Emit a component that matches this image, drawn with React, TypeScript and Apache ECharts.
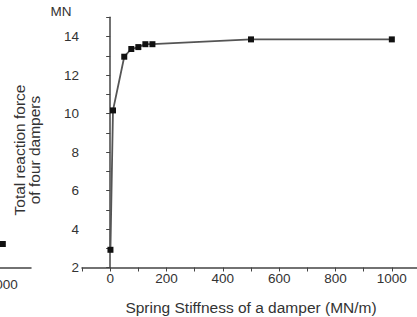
import React, { useEffect, useRef } from "react";
import * as echarts from "echarts";

const stiffness = [1, 10, 50, 75, 100, 125, 150, 500, 1000];
const reactionForce = [2.92, 10.16, 12.95, 13.35, 13.45, 13.6, 13.6, 13.85, 13.85];
const xTickLabels = [0, 200, 400, 600, 800, 1000];
const yTickLabels = [2, 4, 6, 8, 10, 12, 14];
// fragment of the neighbouring chart on the left edge
const neighbourX = [1000];
const neighbourY = [3.22];

const FONT = "Liberation Sans, Arial, sans-serif";
const TXT = "#333";
const AXIS = "#444";

export default function App() {
  const ref = useRef<HTMLDivElement>(null);
  useEffect(() => {
    if (!ref.current) return;
    const chart = echarts.init(ref.current, undefined, { renderer: "svg" });
    const common = {
      fontFamily: FONT,
      color: TXT,
      fontSize: 13.5,
    };
    chart.setOption({
      animation: false,
      backgroundColor: "#fff",
      grid: [
        { left: 82, width: 338, top: 17.25, height: 250.25, outerBoundsMode: "none", containLabel: false },
        { left: 0, width: 31, top: 17.25, height: 250.25, outerBoundsMode: "none", containLabel: false },
      ],
      xAxis: [
        {
          type: "value",
          gridIndex: 0,
          min: -100,
          max: 1100,
          interval: 100,
          splitLine: { show: false },
          axisLine: { show: true, lineStyle: { color: AXIS, width: 1.5 } },
          axisTick: { show: true, length: 4, lineStyle: { color: AXIS } },
          axisLabel: {
            ...common,
            margin: 4,
            formatter: (v: number) => (xTickLabels.includes(v) ? String(v) : ""),
          },
          name: "Spring Stiffness of a damper (MN/m)",
          nameLocation: "middle",
          nameGap: 32,
          nameTextStyle: { fontFamily: FONT, color: TXT, fontSize: 15.5 },
        },
        {
          type: "value",
          gridIndex: 1,
          min: 990,
          max: 1100,
          interval: 10,
          splitLine: { show: false },
          axisLine: { show: true, lineStyle: { color: AXIS, width: 1.5 } },
          axisTick: { show: false },
          axisLabel: {
            ...common,
            margin: 10,
            showMinLabel: false,
            formatter: (v: number) => (v === 1000 ? "1000" : ""),
          },
        },
      ],
      yAxis: [
        {
          type: "value",
          gridIndex: 0,
          min: 2,
          max: 15,
          interval: 1,
          splitLine: { show: false },
          axisLine: { show: true, lineStyle: { color: AXIS, width: 1.5 } },
          axisTick: { show: true, length: 4, lineStyle: { color: AXIS } },
          axisLabel: {
            ...common,
            margin: 3,
            formatter: (v: number) => (yTickLabels.includes(v) ? String(v) : ""),
          },
        },
        {
          type: "value",
          gridIndex: 1,
          min: 2,
          max: 15,
          show: false,
        },
      ],
      graphic: [
        {
          type: "text",
          x: 61,
          y: 11,
          style: {
            text: "MN",
            font: `13.5px ${FONT}`,
            fill: TXT,
            align: "center",
            verticalAlign: "middle",
          },
        },
        {
          type: "text",
          x: 26.5,
          y: 150,
          rotation: Math.PI / 2,
          style: {
            text: "Total reaction force\nof four dampers",
            font: `15.5px ${FONT}`,
            fill: TXT,
            align: "center",
            verticalAlign: "middle",
            lineHeight: 15,
          },
        },
      ],
      series: [
        {
          type: "line",
          xAxisIndex: 0,
          yAxisIndex: 0,
          data: stiffness.map((x, i) => [x, reactionForce[i]]),
          symbol: "rect",
          symbolSize: 6,
          lineStyle: { color: "#555", width: 1.8 },
          itemStyle: { color: "#111" },
        },
        {
          type: "line",
          xAxisIndex: 1,
          yAxisIndex: 1,
          data: neighbourX.map((x, i) => [x, neighbourY[i]]),
          symbol: "rect",
          symbolSize: 6,
          lineStyle: { color: "#555", width: 1.8 },
          itemStyle: { color: "#111" },
        },
      ],
    });
    return () => chart.dispose();
  }, []);
  return (
    <div
      ref={ref}
      style={{ position: "fixed", left: 0, top: 0, width: 417, height: 317 }}
    />
  );
}
